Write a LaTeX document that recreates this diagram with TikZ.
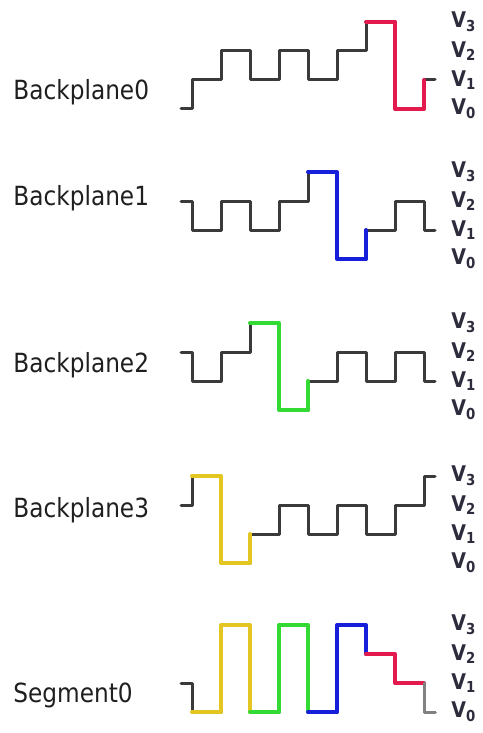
\documentclass[tikz,border=0pt]{standalone}
\usepackage{fontspec}
\setmainfont{DejaVu Sans}[FakeStretch=0.88]

\definecolor{wavegray}{RGB}{58,58,58}
\definecolor{endgray}{RGB}{130,130,130}
\definecolor{segred}{RGB}{226,26,78}
\definecolor{segblue}{RGB}{22,32,218}
\definecolor{seggreen}{RGB}{52,218,52}
\definecolor{segyellow}{RGB}{228,198,34}
\definecolor{lvltext}{RGB}{44,44,60}

\begin{document}
\begin{tikzpicture}[
  x=0.5pt, y=-0.5pt,
  wave/.style={draw=wavegray, line width=1.5pt, line join=round, line cap=round},
  pulse/.style={line width=2pt, line join=round, line cap=round},
  rowlabel/.style={anchor=base west, inner sep=0pt, text=black!88, font=\fontsize{13.2}{15}\selectfont},
  level/.style={anchor=west, inner sep=0pt, text=lvltext, font=\fontsize{10.8}{12}\selectfont\bfseries}
]
\useasboundingbox (0,0) rectangle (482,733);

% Row names
\foreach \n/\t/\y in {bp0/Backplane0/99, bp1/Backplane1/205, bp2/Backplane2/372,
                      bp3/Backplane3/517, seg0/Segment0/702}
  \node[rowlabel] (\n) at (13,\y) {\t};

% Waveforms: V0 line, then levels before / slots 0..7 / after
\foreach \r/\base/\levels in {0/109/{0,1,2,1,2,1,2,3,0,1},
                              1/259/{2,1,2,1,2,3,0,1,2,1},
                              2/410/{2,1,2,3,0,1,2,1,2,1},
                              3/563/{2,3,0,1,2,1,2,1,2,3},
                              4/712/{1,0,3,0,3,0,3,2,1,0}} {
  \draw[wave] \foreach \l [count=\k from 0] in \levels {
      \ifnum\k=0 (181,{\base-29*\l}) \fi
      -- ({max(181,163+29*\k)},{\base-29*\l})
      -- ({min(435,192+29*\k)},{\base-29*\l})
    };
  % level names
  \foreach \l in {0,...,3}
    \node[level] (v\r\l) at (451,{\base-29*\l}) {V\textsubscript{\l}};
}

% Select pulse of each backplane
\foreach \base/\j/\c in {109/6/segred, 259/4/segblue, 410/2/seggreen, 563/0/segyellow}
  \draw[pulse, draw=\c] ({192+29*\j},{\base-87}) -- ({221+29*\j},{\base-87})
    -- ({221+29*\j},\base) -- ({250+29*\j},\base) -- ({250+29*\j},{\base-29});

% Segment pulses
\foreach \j/\c in {0/segyellow, 2/seggreen}
  \draw[pulse, draw=\c] ({192+29*\j},712) -- ({221+29*\j},712)
    -- ({221+29*\j},625) -- ({250+29*\j},625) -- ({250+29*\j},712);
\draw[pulse, draw=segblue] (308,712) -- (337,712) -- (337,625) -- (366,625) -- (366,654);
\draw[pulse, draw=segred] (366,654) -- (395,654) -- (395,683) -- (424,683);
\draw[wave, draw=endgray] (424,683) -- (424,712) -- (435,712);

\end{tikzpicture}
\end{document}
